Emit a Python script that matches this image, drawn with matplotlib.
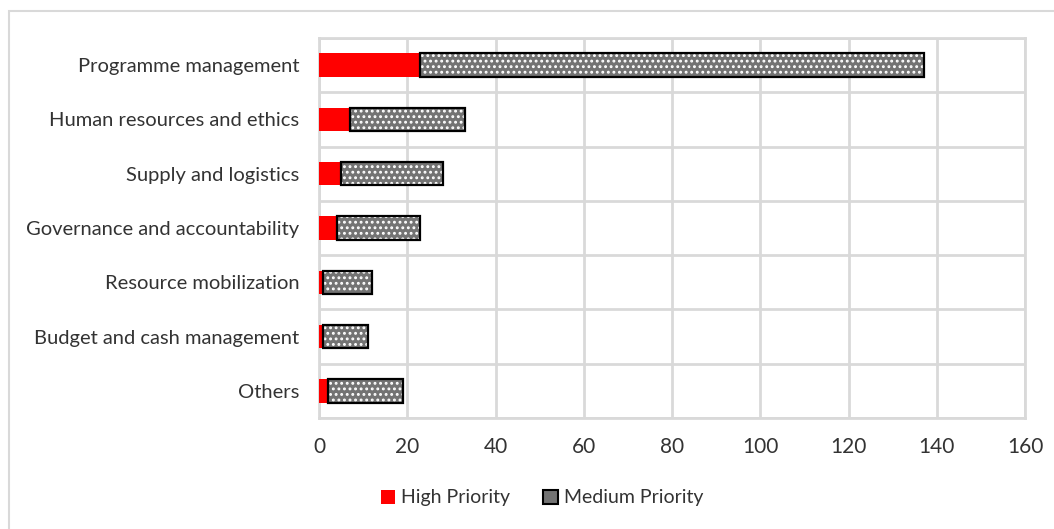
import matplotlib.pyplot as plt
import matplotlib
from matplotlib.patches import Rectangle, Patch
import numpy as np

matplotlib.rc('font', family=['Lato', 'DejaVu Sans'])
matplotlib.rcParams['hatch.linewidth'] = 1.3

categories = ['Programme management', 'Human resources and ethics',
              'Supply and logistics', 'Governance and accountability',
              'Resource mobilization', 'Budget and cash management', 'Others']
high = [23, 7, 5, 4, 1, 1, 2]
medium = [114, 26, 23, 19, 11, 10, 17]
xticks = [0, 20, 40, 60, 80, 100, 120, 140, 160]

grid_col = '#d9d9d9'
fill_col = '#737373'
fig = plt.figure(figsize=(10.54, 5.29), dpi=100)
fig.patches.append(Rectangle((9/1054, -0.1), 1.2, 1.1 - 11/529,
                             transform=fig.transFigure, fill=False,
                             edgecolor=grid_col, linewidth=1.5))
ax = fig.add_axes([319/1054, 1 - 418/529, 706/1054, 380/529])

y = np.arange(len(categories))
ax.barh(y, high, height=0.43, color='#ff0000', zorder=3)
# gray fill with white dots, then black outline on top
ax.barh(y, medium, left=high, height=0.43, facecolor=fill_col, edgecolor='white',
        linewidth=0, hatch='...', zorder=3)
ax.barh(y, medium, left=high, height=0.43, fill=False, edgecolor='black',
        linewidth=1.6, zorder=4)

ax.set_ylim(len(categories) - 0.5, -0.5)
ax.set_xlim(0, 160)
ax.set_xticks(xticks)
ax.set_yticks(y)
ax.set_yticklabels(categories, fontsize=14.5, color='#333333')
ax.tick_params(axis='x', labelsize=15, labelcolor='#333333', length=0, pad=14)
ax.tick_params(axis='y', length=0, pad=14)
ax.set_yticks(np.arange(-0.5, len(categories), 1), minor=True)
ax.grid(True, which='minor', axis='y', color=grid_col, linewidth=2)
ax.grid(True, which='major', axis='x', color=grid_col, linewidth=2)
ax.tick_params(which='minor', length=0)
for s in ax.spines.values():
    s.set_color(grid_col)
    s.set_linewidth(2)

handles = [Patch(facecolor='#ff0000', label='High Priority'),
           Patch(facecolor=fill_col, edgecolor='black', linewidth=1.5,
                 label='Medium Priority')]
fig.legend(handles=handles, loc='center', bbox_to_anchor=(542/1054, 1 - 498/529),
           ncol=2, frameon=False, fontsize=14, handlelength=0.75,
           handleheight=0.75, handletextpad=0.3, columnspacing=1.7,
           labelcolor='#333333')

fig.savefig('out.png', dpi=100)
